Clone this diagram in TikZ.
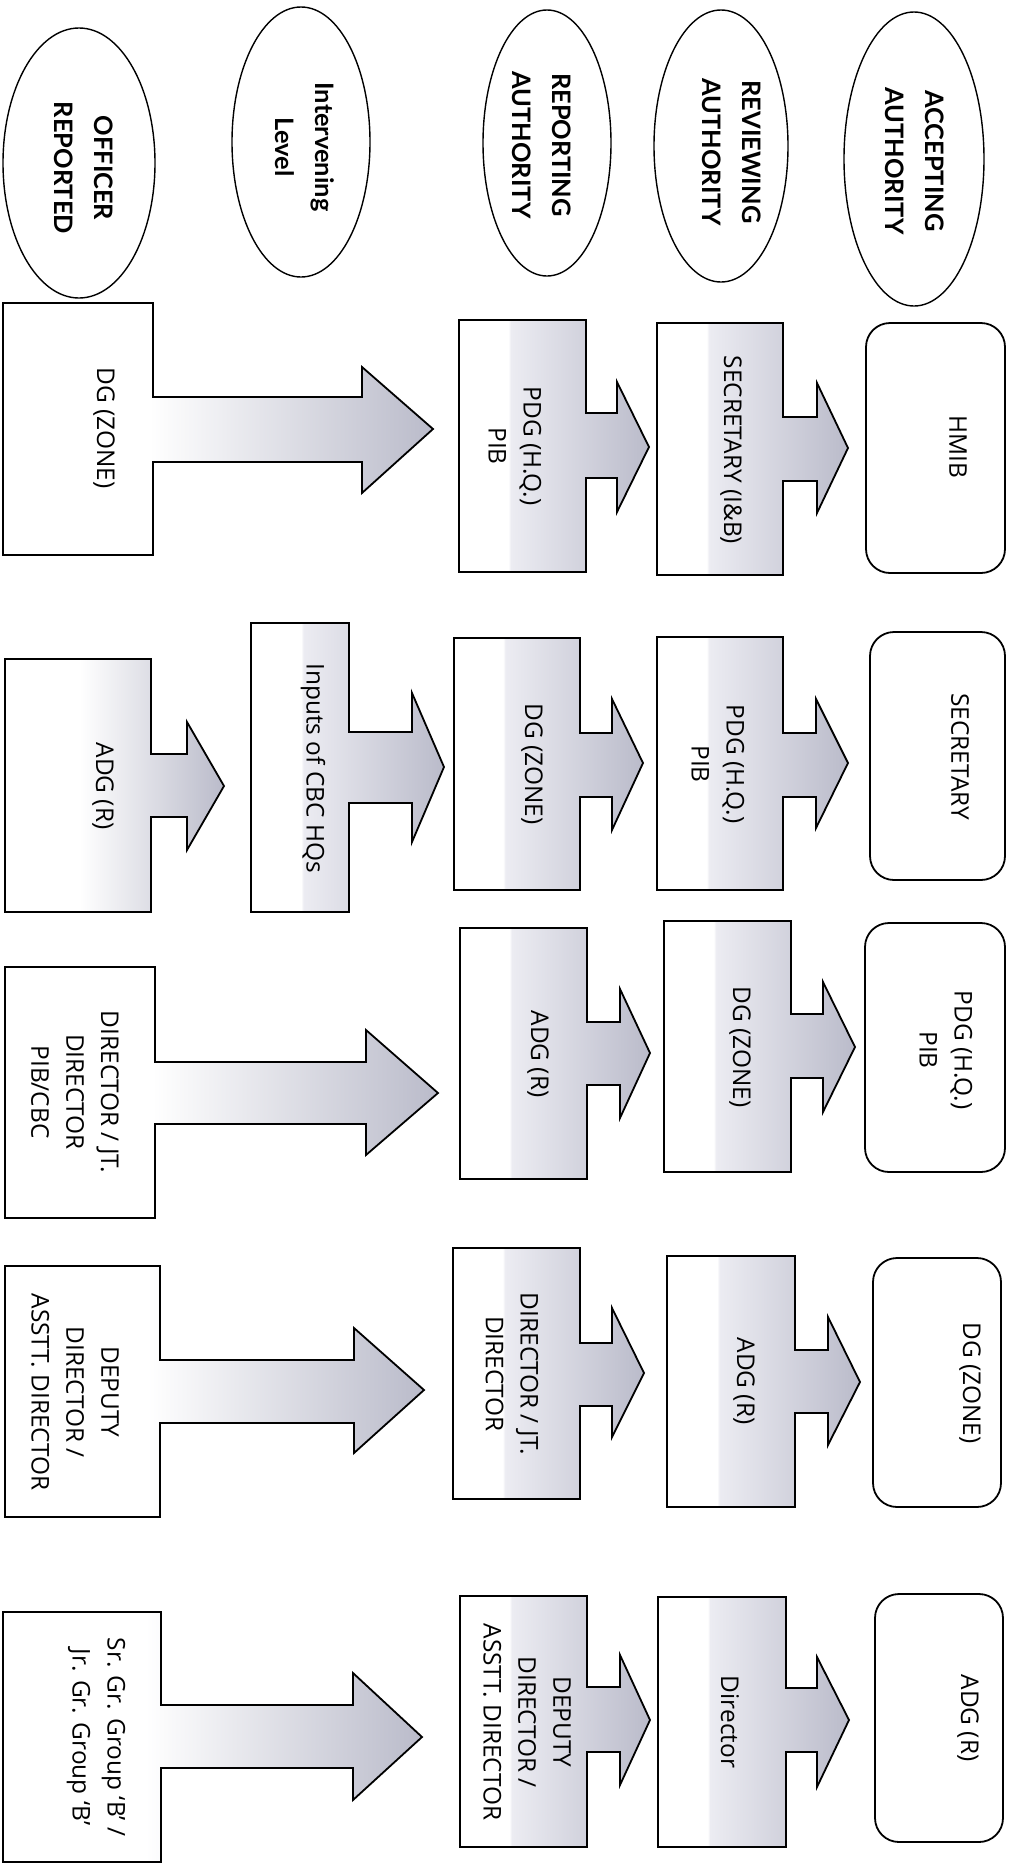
\documentclass[tikz,border=0pt]{standalone}
\usepackage{fontspec}
\setmainfont{Open Sans}
\newfontfamily\EllFam{Lato}
\usetikzlibrary{shapes.geometric}
\definecolor{gLight}{RGB}{236,236,242}
\definecolor{gDark}{RGB}{186,187,202}
\pgfdeclarehorizontalshading{offshade}{100bp}{color(0bp)=(white); color(25bp)=(white); color(42bp)=(white); color(75bp)=(gDark); color(100bp)=(gDark)}
\pgfdeclarehorizontalshading{midshade}{100bp}{color(0bp)=(white); color(25bp)=(white); color(38bp)=(white); color(38.6bp)=(gLight); color(75bp)=(gDark); color(100bp)=(gDark)}
\newcommand\BoxFnt{\fontsize{24.5}{35}\selectfont}
\newcommand\EllFnt{\EllFam\bfseries\fontsize{25.5}{40}\selectfont}
\tikzset{
  offcall/.style={shading=offshade, draw=black, line width=1.8bp, line join=miter},
  midcall/.style={shading=midshade, draw=black, line width=1.8bp, line join=miter},
  accbox/.style={draw=black, fill=white, line width=1.8bp, rounded corners=24bp},
  ellshape/.style={ellipse, draw=black, line width=1.4bp, inner sep=0pt, rotate=-90},
  btext/.style={rotate=-90, align=center, font=\BoxFnt, inner sep=0pt},
  etext/.style={rotate=-90, align=center, font=\EllFnt, inner sep=0pt}
}
\begin{document}
\begin{tikzpicture}[x=1bp, y=-1bp]
\useasboundingbox (0,0) rectangle (1008,1864);
\fill[white] (0,0) rectangle (1008,1864);

% ---- header ellipses ----
\node[ellshape, minimum width=270bp, minimum height=152bp] (e1) at (79,163) {};
\node[ellshape, minimum width=270bp, minimum height=138bp] (e2) at (301,142) {};
\node[ellshape, minimum width=266bp, minimum height=128bp] (e3) at (547,143) {};
\node[ellshape, minimum width=272bp, minimum height=134bp] (e4) at (721,146) {};
\node[ellshape, minimum width=294bp, minimum height=140bp] (e5) at (914,159) {};
\node[etext] (te1) at (84,168) {OFFICER\\REPORTED};
\node[etext] (te2) at (305,147) {Intervening\\Level};
\node[etext] (te3) at (542,145) {REPORTING\\AUTHORITY};
\node[etext] (te4) at (732,152) {REVIEWING\\AUTHORITY};
\node[etext] (te5) at (915,161) {ACCEPTING\\AUTHORITY};

% ---- group 1 ----
\shadedraw[offcall] (3,303) -- (153,303) -- (153,397) -- (362,397) -- (362,367) -- (433,429) -- (362,493) -- (362,462) -- (153,462) -- (153,555) -- (3,555) -- cycle;
\shadedraw[midcall] (459,320) -- (586,320) -- (586,413) -- (617,413) -- (617,382) -- (649,447) -- (617,512) -- (617,478) -- (586,478) -- (586,572) -- (459,572) -- cycle;
\shadedraw[midcall] (657,323) -- (783,323) -- (783,417) -- (817,417) -- (817,383) -- (848,448) -- (817,513) -- (817,481) -- (783,481) -- (783,575) -- (657,575) -- cycle;
\draw[accbox] (866,323) rectangle (1005,573);
\node[btext] (o1) at (104,428) {DG (ZONE)};
\node[btext] (r1) at (515,446) {PDG (H.Q.)\\PIB};
\node[btext] (v1) at (731,450) {SECRETARY (I\&B)};
\node[btext] (a1) at (958,447) {HMIB};

% ---- group 2 ----
\shadedraw[offcall] (5,659) -- (151,659) -- (151,754) -- (187,754) -- (187,722) -- (224,786) -- (187,850) -- (187,817) -- (151,817) -- (151,912) -- (5,912) -- cycle;
\shadedraw[midcall] (251,623) -- (349,623) -- (349,732) -- (412,732) -- (412,693) -- (444,767) -- (412,842) -- (412,803) -- (349,803) -- (349,912) -- (251,912) -- cycle;
\shadedraw[midcall] (454,638) -- (580,638) -- (580,733) -- (612,733) -- (612,699) -- (643,763) -- (612,830) -- (612,797) -- (580,797) -- (580,890) -- (454,890) -- cycle;
\shadedraw[midcall] (657,637) -- (783,637) -- (783,733) -- (816,733) -- (816,699) -- (848,763) -- (816,828) -- (816,797) -- (783,797) -- (783,890) -- (657,890) -- cycle;
\draw[accbox] (870,632) rectangle (1005,880);
\node[btext] (o2) at (103,786) {ADG (R)};
\node[btext] (i2) at (313,768) {Inputs of CBC HQs};
\node[btext] (r2) at (532,764) {DG (ZONE)};
\node[btext] (v2) at (718,764) {PDG (H.Q.)\\PIB};
\node[btext] (a2) at (960,757) {SECRETARY};

% ---- group 3 ----
\shadedraw[offcall] (5,967) -- (155,967) -- (155,1062) -- (366,1062) -- (366,1030) -- (438,1093) -- (366,1155) -- (366,1124) -- (155,1124) -- (155,1218) -- (5,1218) -- cycle;
\shadedraw[midcall] (460,928) -- (587,928) -- (587,1022) -- (620,1022) -- (620,989) -- (650,1053) -- (620,1118) -- (620,1085) -- (587,1085) -- (587,1179) -- (460,1179) -- cycle;
\shadedraw[midcall] (664,921) -- (791,921) -- (791,1014) -- (823,1014) -- (823,982) -- (855,1047) -- (823,1112) -- (823,1078) -- (791,1078) -- (791,1172) -- (664,1172) -- cycle;
\draw[accbox] (865,923) rectangle (1005,1172);
\node[btext] (o3) at (75,1092) {DIRECTOR / JT.\\DIRECTOR\\PIB/CBC};
\node[btext] (r3) at (538,1054) {ADG (R)};
\node[btext] (v3) at (740,1047) {DG (ZONE)};
\node[btext] (a3) at (946,1050) {PDG (H.Q.)\\PIB};

% ---- group 4 ----
\shadedraw[offcall] (5,1266) -- (160,1266) -- (160,1360) -- (354,1360) -- (354,1328) -- (424,1390) -- (354,1453) -- (354,1423) -- (160,1423) -- (160,1517) -- (5,1517) -- cycle;
\shadedraw[midcall] (453,1248) -- (580,1248) -- (580,1343) -- (612,1343) -- (612,1308) -- (644,1373) -- (612,1437) -- (612,1406) -- (580,1406) -- (580,1499) -- (453,1499) -- cycle;
\shadedraw[midcall] (667,1256) -- (795,1256) -- (795,1350) -- (828,1350) -- (828,1317) -- (860,1382) -- (828,1445) -- (828,1413) -- (795,1413) -- (795,1507) -- (667,1507) -- cycle;
\draw[accbox] (873,1258) rectangle (1001,1507);
\node[btext] (o4) at (75,1392) {DEPUTY\\DIRECTOR /\\ASSTT. DIRECTOR};
\node[btext] (r4) at (512,1374) {DIRECTOR / JT.\\DIRECTOR};
\node[btext] (v4) at (744,1381) {ADG (R)};
\node[btext] (a4) at (970,1383) {DG (ZONE)};

% ---- group 5 ----
\shadedraw[offcall] (3,1612) -- (161,1612) -- (161,1705) -- (353,1705) -- (353,1673) -- (422,1737) -- (353,1800) -- (353,1768) -- (161,1768) -- (161,1862) -- (3,1862) -- cycle;
\shadedraw[midcall] (460,1596) -- (587,1596) -- (587,1687) -- (620,1687) -- (620,1655) -- (650,1720) -- (620,1785) -- (620,1752) -- (587,1752) -- (587,1847) -- (460,1847) -- cycle;
\shadedraw[midcall] (658,1597) -- (786,1597) -- (786,1688) -- (817,1688) -- (817,1657) -- (849,1720) -- (817,1787) -- (817,1752) -- (786,1752) -- (786,1847) -- (658,1847) -- cycle;
\draw[accbox] (875,1594) rectangle (1003,1842);
\node[btext] (o5) at (96,1737) {Sr. Gr. Group ‘B’ /\\Jr. Gr. Group ‘B’};
\node[btext] (r5) at (527,1722) {DEPUTY\\DIRECTOR /\\ASSTT. DIRECTOR};
\node[btext] (v5) at (730,1722) {Director};
\node[btext] (a5) at (968,1718) {ADG (R)};
\end{tikzpicture}
\end{document}
